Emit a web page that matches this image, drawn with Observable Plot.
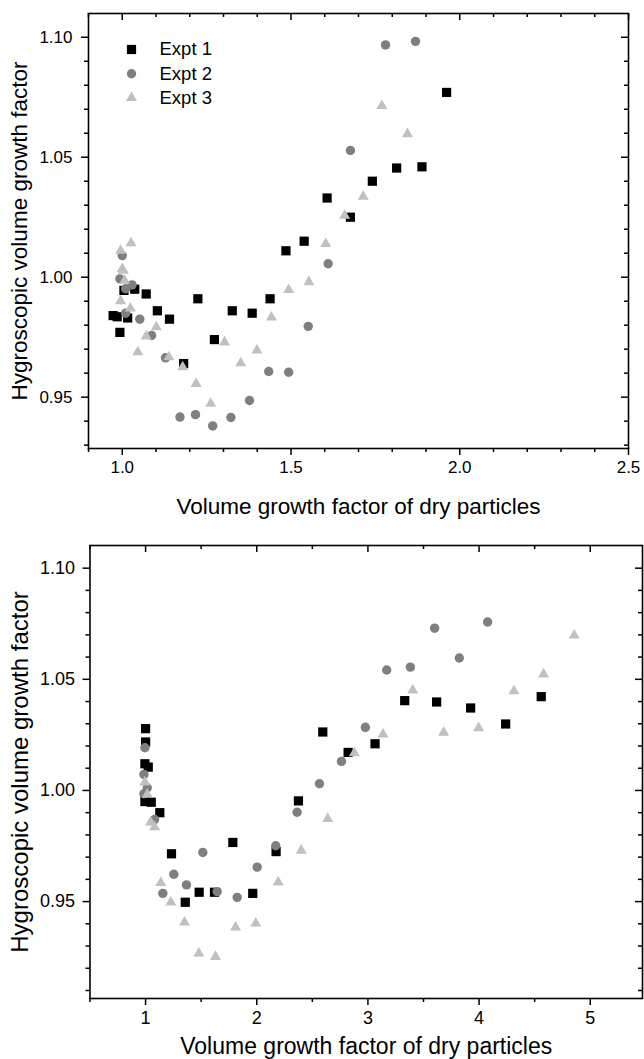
<!DOCTYPE html>
<html>
<head>
<meta charset="utf-8">
<script src="https://cdn.jsdelivr.net/npm/d3@7"></script>
<script src="https://cdn.jsdelivr.net/npm/@observablehq/plot@0.6"></script>
<style>
  html, body { margin: 0; padding: 0; background: #fff; }
  #chart { width: 644px; }
  #chart svg { display: block; }
</style>
</head>
<body>
<div id="chart"></div>
<script>
// Hygroscopic volume growth factor vs. volume growth factor of dry particles,
// two panels, three experiments each.

const seriesNames = ["Expt 1", "Expt 2", "Expt 3"];
const seriesSymbols = ["square", "circle", "triangle"];
const seriesColors = ["#000000", "#7f7f7f", "#c0c0c0"];
const seriesRadius = [5.2, 4.7, 4.1];

const xTitle = "Volume growth factor of dry particles";
const yTitle = "Hygroscopic volume growth factor";

// Upper panel
const top1x = [0.973, 0.985, 0.993, 1.005, 1.016, 1.037, 1.071, 1.104, 1.14, 1.182, 1.224, 1.273, 1.326, 1.385, 1.438, 1.485, 1.539, 1.607, 1.676, 1.741, 1.813, 1.888, 1.961];
const top1y = [0.984, 0.9835, 0.977, 0.9945, 0.983, 0.995, 0.993, 0.986, 0.9825, 0.964, 0.991, 0.974, 0.986, 0.985, 0.991, 1.011, 1.015, 1.033, 1.025, 1.040, 1.0455, 1.046, 1.077];
const top2x = [1.0, 0.993, 1.01, 1.029, 1.01, 1.052, 1.087, 1.128, 1.171, 1.217, 1.268, 1.322, 1.377, 1.434, 1.493, 1.551, 1.61, 1.676, 1.78, 1.869];
const top2y = [1.009, 0.9993, 0.9952, 0.9968, 0.985, 0.9825, 0.9757, 0.9664, 0.9417, 0.9427, 0.938, 0.9415, 0.9486, 0.9607, 0.9604, 0.9795, 1.0056, 1.0528, 1.0968, 1.0983];
const top3x = [0.995, 1.026, 1.0, 1.003, 1.007, 0.995, 1.024, 1.046, 1.071, 1.101, 1.138, 1.179, 1.219, 1.262, 1.303, 1.351, 1.399, 1.442, 1.493, 1.553, 1.603, 1.659, 1.714, 1.769, 1.845];
const top3y = [1.0111, 1.0142, 1.0035, 1.0028, 0.9986, 0.990, 0.987, 0.9688, 0.9754, 0.9792, 0.9667, 0.9625, 0.9556, 0.9473, 0.9729, 0.9642, 0.9695, 0.9833, 0.9947, 0.998, 1.0139, 1.0257, 1.0336, 1.0714, 1.0597];

const topXMajor = [1.0, 1.5, 2.0, 2.5];
const topXMinor = [0.9, 1.1, 1.2, 1.3, 1.4, 1.6, 1.7, 1.8, 1.9, 2.1, 2.2, 2.3, 2.4];
const topYMajor = [0.95, 1.00, 1.05, 1.10];
const topYMinor = [0.93, 0.94, 0.96, 0.97, 0.98, 0.99, 1.01, 1.02, 1.03, 1.04, 1.06, 1.07, 1.08, 1.09];

// Lower panel
const bot1x = [1.0, 1.0, 0.994, 1.024, 0.994, 1.051, 1.128, 1.233, 1.357, 1.482, 1.62, 1.785, 1.964, 2.174, 2.375, 2.594, 2.822, 3.064, 3.331, 3.618, 3.924, 4.239, 4.559];
const bot1y = [1.0278, 1.0218, 1.012, 1.0105, 0.995, 0.9947, 0.99, 0.9715, 0.9497, 0.9542, 0.9542, 0.9766, 0.9537, 0.9725, 0.9953, 1.0263, 1.0171, 1.021, 1.0404, 1.0398, 1.0371, 1.0299, 1.0422];
const bot2x = [0.994, 0.985, 1.015, 0.985, 1.081, 1.155, 1.254, 1.368, 1.515, 1.644, 1.824, 2.004, 2.171, 2.363, 2.564, 2.762, 2.977, 3.169, 3.382, 3.6, 3.822, 4.077];
const bot2y = [1.0192, 1.0072, 1.0012, 0.9985, 0.9869, 0.9537, 0.9623, 0.9575, 0.9721, 0.9545, 0.9519, 0.9655, 0.9751, 0.9902, 1.003, 1.0131, 1.0284, 1.0542, 1.0555, 1.073, 1.0596, 1.0758];
const bot3x = [0.994, 1.015, 1.045, 1.081, 1.137, 1.227, 1.35, 1.479, 1.629, 1.809, 1.991, 2.193, 2.40, 2.639, 2.878, 3.136, 3.403, 3.681, 3.996, 4.314, 4.58, 4.856];
const bot3y = [1.0037, 0.9982, 0.9857, 0.9835, 0.9584, 0.9497, 0.9407, 0.9267, 0.9252, 0.9384, 0.9402, 0.9587, 0.973, 0.9872, 1.0168, 1.0252, 1.045, 1.026, 1.0281, 1.0447, 1.0523, 1.0698];

const botXMajor = [1, 2, 3, 4, 5];
const botXMinor = [0.5, 1.5, 2.5, 3.5, 4.5];
const botYMajor = [0.95, 1.00, 1.05, 1.10];
const botYMinor = [0.91, 0.92, 0.93, 0.94, 0.96, 0.97, 0.98, 0.99, 1.01, 1.02, 1.03, 1.04, 1.06, 1.07, 1.08, 1.09];

const FONT = "'Liberation Sans', Arial, Helvetica, sans-serif";

function panel(cfg) {
  const tickStyle = {stroke: "#000", strokeWidth: 1.5, label: null};
  const marks = [
    // ticks: outward on bottom/left, inward on top/right
    Plot.axisX(cfg.xMajor, {...tickStyle, anchor: "bottom", tickSize: 7, tickPadding: cfg.xPad, tickFormat: cfg.xFormat, fill: "#000", fontSize: cfg.tickFont}),
    Plot.axisX(cfg.xMinor, {...tickStyle, anchor: "bottom", tickSize: 4, fill: "none"}),
    Plot.axisX(cfg.xMajor, {...tickStyle, anchor: "bottom", frameAnchor: "top", tickSize: 7, fill: "none"}),
    Plot.axisX(cfg.xMinor, {...tickStyle, anchor: "bottom", frameAnchor: "top", tickSize: 4, fill: "none"}),
    Plot.axisY(cfg.yMajor, {...tickStyle, anchor: "left", tickSize: 7, tickPadding: cfg.yPad, tickFormat: d3.format(".2f"), fill: "#000", fontSize: cfg.tickFont}),
    Plot.axisY(cfg.yMinor, {...tickStyle, anchor: "left", tickSize: 4, fill: "none"}),
    Plot.axisY(cfg.yMajor, {...tickStyle, anchor: "left", frameAnchor: "right", tickSize: 7, fill: "none"}),
    Plot.axisY(cfg.yMinor, {...tickStyle, anchor: "left", frameAnchor: "right", tickSize: 4, fill: "none"}),
    Plot.frame({stroke: "#000", strokeWidth: 1.6}),
    // axis titles
    Plot.text([xTitle], {frameAnchor: "bottom", dy: cfg.xTitleDy, text: d => d, textAnchor: "middle", lineAnchor: "middle", fontSize: cfg.titleFont, fill: "#000"}),
    Plot.text([yTitle], {frameAnchor: "left", dx: cfg.yTitleDx, rotate: -90, text: d => d, textAnchor: "middle", lineAnchor: "middle", fontSize: cfg.yTitleFont, fill: "#000"})
  ];
  cfg.series.forEach(([xs, ys], i) => {
    marks.push(Plot.dot(xs, {x: xs, y: ys, symbol: seriesSymbols[i], r: seriesRadius[i], fill: seriesColors[i]}));
  });
  if (cfg.legend) {
    seriesNames.forEach((name, i) => {
      const dy = 36 + i * 24.2;
      marks.push(Plot.dot([name], {frameAnchor: "top-left", dx: 43, dy, symbol: seriesSymbols[i], r: seriesRadius[i], fill: seriesColors[i]}));
      marks.push(Plot.text([name], {frameAnchor: "top-left", dx: 71, dy, text: d => d, textAnchor: "start", lineAnchor: "middle", fontSize: 18.5, fill: "#000"}));
    });
  }
  return Plot.plot({
    width: 644,
    height: cfg.height,
    marginTop: cfg.mt, marginBottom: cfg.mb, marginLeft: cfg.ml, marginRight: cfg.mr,
    style: {fontFamily: FONT, color: "#000", background: "#fff", overflow: "visible"},
    x: {domain: cfg.xDomain, label: null},
    y: {domain: cfg.yDomain, label: null},
    marks
  });
}

const chart = document.getElementById("chart");

chart.append(panel({
  height: 525, mt: 13, mb: 77, ml: 88, mr: 16,
  xDomain: [0.9, 2.5], yDomain: [0.9286, 1.1099],
  xMajor: topXMajor, xMinor: topXMinor, yMajor: topYMajor, yMinor: topYMinor,
  xFormat: d3.format(".1f"), xPad: 5, yPad: 9,
  tickFont: 17, titleFont: 22.5, yTitleFont: 22.5, xTitleDy: 58, yTitleDx: -68.5,
  series: [[top1x, top1y], [top2x, top2y], [top3x, top3y]],
  legend: true
}));

chart.append(panel({
  height: 534, mt: 20, mb: 61, ml: 89.5, mr: 2,
  xDomain: [0.5, 5.47], yDomain: [0.9064, 1.1102],
  xMajor: botXMajor, xMinor: botXMinor, yMajor: botYMajor, yMinor: botYMinor,
  xFormat: d3.format("d"), xPad: 6, yPad: 8,
  tickFont: 18, titleFont: 23, yTitleFont: 24, xTitleDy: 48, yTitleDx: -69.5,
  series: [[bot1x, bot1y], [bot2x, bot2y], [bot3x, bot3y]],
  legend: false
}));
</script>
</body>
</html>
